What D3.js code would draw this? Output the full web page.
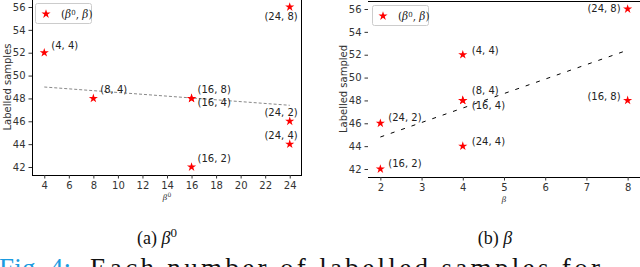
<!DOCTYPE html>
<html><head><meta charset="utf-8">
<script src="https://cdn.jsdelivr.net/npm/d3@7"></script>
<style>body{margin:0;background:#fff;overflow:hidden}svg{display:block}</style>
</head><body>
<svg id="c" width="640" height="267"></svg>
<script>
// ---- data ----
const labels = ["(4, 4)","(8, 4)","(16, 8)","(16, 4)","(16, 2)","(24, 8)","(24, 2)","(24, 4)"];
const beta0  = [4, 8, 16, 16, 16, 24, 24, 24];
const beta   = [4, 4, 8, 4, 2, 8, 2, 4];
const samples= [52, 48, 48, 48, 42, 56, 46, 44];
const xTicksA = [4,6,8,10,12,14,16,18,20,22,24];
const xTicksB = [2,3,4,5,6,7,8];
const yTicks  = [42,44,46,48,50,52,54,56];
const trendA = [[4,49.0],[24,47.4]];
const trendB = [[2,44.8],[8,52.4]];

const svg = d3.select("#c");
const tickFont = "DejaVu Sans, sans-serif";
const tcol = "#333";

function panel(o){
  const g = svg.append("g");
  const x = d3.scaleLinear().domain(o.xd).range([o.l,o.r]);
  const y = d3.scaleLinear().domain([41.3,56.7]).range([o.b,o.t]);
  const sp = g.append("g").attr("stroke","#000").attr("stroke-width",1).attr("fill","none");
  sp.append("line").attr("x1",o.l).attr("x2",o.r).attr("y1",o.b+0.5).attr("y2",o.b+0.5);
  sp.append("line").attr("x1",o.l).attr("x2",o.r).attr("y1",o.t+0.5).attr("y2",o.t+0.5);
  if(o.sides){
    sp.append("line").attr("x1",o.l+0.5).attr("x2",o.l+0.5).attr("y1",o.t).attr("y2",o.b);
    sp.append("line").attr("x1",o.r-0.5).attr("x2",o.r-0.5).attr("y1",o.t).attr("y2",o.b);
  }
  const xa = g.append("g").attr("transform",`translate(0,${o.b})`)
    .call(d3.axisBottom(x).tickValues(o.xt).tickSize(3.5).tickPadding(3).tickFormat(d3.format("d")));
  const ya = g.append("g").attr("transform",`translate(${o.l},0)`)
    .call(d3.axisLeft(y).tickValues(yTicks).tickSize(3.5).tickPadding(3).tickFormat(d3.format("d")));
  [xa,ya].forEach(a=>{
    a.select(".domain").remove();
    a.selectAll("text").attr("font-family",tickFont).attr("font-size",10).attr("fill",tcol);
    a.selectAll("line").attr("stroke","#333");
  });
  g.append("text").attr("transform",`translate(${o.ylx},${(o.t+o.b)/2}) rotate(-90)`)
    .attr("text-anchor","middle").attr("font-family",tickFont).attr("font-size",10).attr("fill",tcol)
    .text(o.ylabel);
  const xl = g.append("text").attr("x",(o.l+o.r)/2).attr("y",o.b+25).attr("text-anchor","middle")
    .attr("font-family","DejaVu Serif, serif").attr("font-style","italic").attr("font-size",8).attr("fill",tcol);
  xl.append("tspan").text("β");
  if(o.sup) xl.append("tspan").attr("dy",-3).attr("font-size",6).attr("font-style","normal").text("0");
  g.append("path").datum(o.trend)
    .attr("d",d3.line().x(d=>x(d[0])).y(d=>y(d[1])))
    .attr("fill","none").attr("stroke",o.tcolor).attr("stroke-width",1).attr("stroke-dasharray",o.dash);
  const xs = o.xs;
  g.selectAll("path.pt").data(samples).join("path").attr("class","pt")
    .attr("d",d3.symbol(d3.symbolStar,26))
    .attr("transform",(d,i)=>`translate(${x(xs[i])},${y(d)})`)
    .attr("fill","#ff0000");
  g.selectAll("text.ann").data(samples).join("text").attr("class","ann")
    .attr("x",(d,i)=>x(xs[i])+o.off[i][0]).attr("y",(d,i)=>y(d)+o.off[i][1])
    .attr("text-anchor",(d,i)=>o.off[i][2]||"start")
    .attr("font-family",tickFont).attr("font-size",10).attr("fill","#222")
    .text((d,i)=>labels[i]);
  const L = g.append("g").attr("transform",`translate(${o.leg[0]},${o.leg[1]})`);
  L.append("rect").attr("x",0.5).attr("y",0.5).attr("width",56).attr("height",20).attr("rx",2)
    .attr("fill","#fff").attr("stroke","#ccc");
  L.append("path").attr("d",d3.symbol(d3.symbolStar,26)).attr("transform","translate(11,11)").attr("fill","#ff0000");
  const lt = L.append("text").attr("x",26).attr("y",15).attr("font-family","DejaVu Serif, serif")
    .attr("font-size",10.5).attr("fill","#222");
  lt.append("tspan").text("(");
  lt.append("tspan").attr("font-style","italic").text("β");
  lt.append("tspan").attr("dy",-3.5).attr("font-size",7).text("0");
  lt.append("tspan").attr("dy",3.5).text(", ");
  lt.append("tspan").attr("font-style","italic").text("β");
  lt.append("tspan").text(")");
}

panel({l:32,r:302,t:-1,b:175,xd:[3,25],xt:xTicksA,xs:beta0,sides:true,ylx:11,ylabel:"Labelled samples",
  sup:true,trend:trendA,tcolor:"#888",dash:"3,2",leg:[35,3],
  off:[[7,-4],[7,-5],[6,-5],[6,8],[6,-5],[8,13,"end"],[8,-5,"end"],[8,-5,"end"]]});
panel({l:368,r:640,t:1,b:177,xd:[1.7,8.3],xt:xTicksB,xs:beta,sides:false,ylx:347,ylabel:"Labelled sampled",
  sup:false,trend:trendB,tcolor:"#000",dash:"4,7",leg:[372,5],
  off:[[9,-1],[9,-6],[-7,0,"end"],[9,9],[8,-2],[-7,3,"end"],[8,-2],[9,-1]]});

const cap = svg.append("g").attr("font-family","Liberation Serif, serif").attr("font-size",18).attr("fill","#111");
const ca = cap.append("text").attr("x",157).attr("y",244).attr("text-anchor","middle");
ca.append("tspan").text("(a) ");
ca.append("tspan").attr("font-style","italic").text("β");
ca.append("tspan").attr("dy",-7).attr("font-size",13).text("0");
const cb = cap.append("text").attr("x",495).attr("y",244).attr("text-anchor","middle");
cb.append("tspan").text("(b) ");
cb.append("tspan").attr("font-style","italic").text("β");

const f = svg.append("g").attr("font-family","Liberation Serif, serif").attr("font-size",27);
f.append("text").attr("x",-1).attr("y",277).attr("fill","#1a9be0")
  .attr("textLength",72).attr("lengthAdjust","spacing").text("Fig. 4:");
f.append("text").attr("x",90).attr("y",277).attr("fill","#111")
  .attr("textLength",510).attr("lengthAdjust","spacing").text("Each number of labelled samples for");
</script>
</body></html>
